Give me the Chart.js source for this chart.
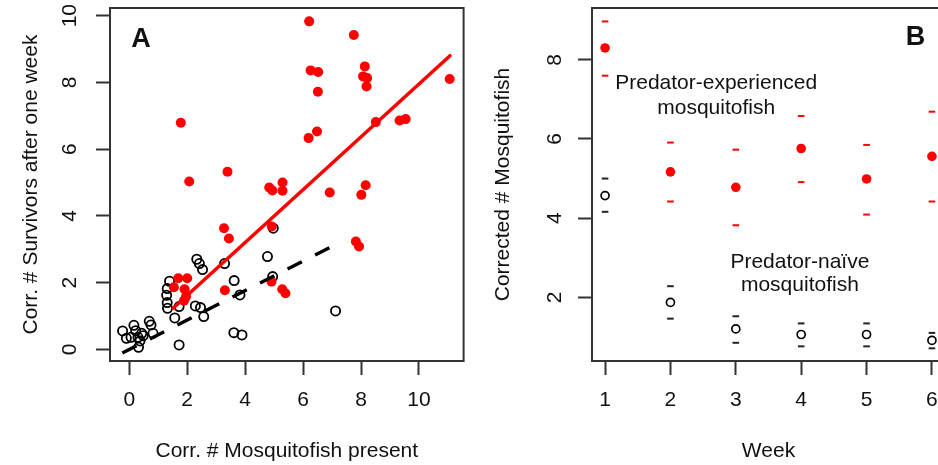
<!DOCTYPE html>
<html>
<head>
<meta charset="utf-8">
<script src="https://cdn.jsdelivr.net/npm/chart.js@4.4.1/dist/chart.umd.min.js"></script>
<style>
  html, body { margin: 0; padding: 0; background: #fff; }
  body { width: 938px; height: 465px; overflow: hidden; position: relative; }
  canvas { position: absolute; top: 0; }
  #chartA { left: 0; }
  #chartB { left: 470px; }
</style>
</head>
<body>
<canvas id="chartA" width="470" height="465"></canvas>
<canvas id="chartB" width="490" height="465"></canvas>
<script>
// ================= PANEL A DATA =================
// predator-experienced tanks (filled red)
const expX = [6.21, 7.75, 6.26, 6.52, 8.13, 8.07, 8.21, 8.19, 6.51, 11.06,
              8.51, 9.33, 9.54, 6.48, 6.19, 1.78, 2.07, 3.39, 4.83, 4.94,
              5.29, 5.29, 6.92, 8.16, 8.01, 3.27, 3.44, 4.92, 7.82, 7.93,
              4.91, 5.28, 5.39, 3.30, 1.69, 2.00, 1.54, 1.91, 1.96, 1.89];
const expY = [9.83, 9.42, 8.36, 8.31, 8.48, 8.18, 8.13, 7.88, 7.72, 8.10,
              6.81, 6.86, 6.90, 6.53, 6.33, 6.79, 5.03, 5.32, 4.85, 4.76,
              5.00, 4.75, 4.70, 4.92, 4.63, 3.63, 3.32, 3.68, 3.23, 3.08,
              2.03, 1.80, 1.68, 1.77, 2.13, 2.13, 1.86, 1.80, 1.58, 1.46];

// predator-naive tanks (open black)
const naiveX = [-0.23, -0.10, 0.06, 0.16, 0.22, 0.30, 0.32, 0.37, 0.43, 0.48,
                0.69, 0.75, 0.82, 1.39, 1.31, 1.29, 1.31, 1.32, 1.57, 1.72,
                1.72, 2.28, 2.46, 2.57, 2.33, 2.42, 2.53, 3.29, 3.62, 3.82,
                3.61, 3.89, 4.77, 4.97, 4.95, 7.12];
const naiveY = [0.55, 0.33, 0.36, 0.72, 0.56, 0.36, 0.06, 0.25, 0.48, 0.41,
                0.84, 0.73, 0.48, 2.04, 1.82, 1.62, 1.40, 1.23, 0.94, 0.13,
                1.28, 1.30, 1.25, 0.98, 2.70, 2.57, 2.39, 2.57, 2.06, 1.63,
                0.50, 0.43, 2.78, 3.63, 2.18, 1.15];

// fitted lines (end points)
const expFitX = [1.52, 11.07];
const expFitY = [1.24, 8.80];
const naiveFitX = [-0.24, 6.92];
const naiveFitY = [-0.11, 3.05];

const xTicksA = [0, 2, 4, 6, 8, 10];
const yTicksA = [0, 2, 4, 6, 8, 10];

// ================= PANEL B DATA =================
const weeks = [1, 2, 3, 4, 5, 6];
const expMean  = [8.30, 5.17, 4.78, 5.76, 4.99, 5.56];
const expUpper = [8.97, 5.91, 5.73, 6.58, 5.85, 6.69];
const expLower = [7.60, 4.42, 3.82, 4.91, 4.09, 4.42];
const naiveMean  = [4.57, 1.87, 1.20, 1.06, 1.06, 0.91];
const naiveUpper = [5.00, 2.28, 1.52, 1.34, 1.34, 1.10];
const naiveLower = [4.16, 1.46, 0.85, 0.76, 0.76, 0.71];

const xTicksB = [1, 2, 3, 4, 5, 6];
const yTicksB = [2, 4, 6, 8];

const noteLines = ["Predator-experienced", "mosquitofish", "Predator-naïve", "mosquitofish"];
const noteX = [2.70, 2.70, 3.98, 3.98];
const noteY = [7.41, 6.79, 2.88, 2.30];

// ================= HELPERS =================
const FONT = '"Liberation Sans", Arial, Helvetica, sans-serif';
const INK = "#111";
Chart.defaults.font.family = FONT;
Chart.defaults.font.size = 21;
Chart.defaults.color = INK;

const pts = (xs, ys) => xs.map((x, i) => ({ x, y: ys[i] }));

function xAxis(min, max, ticks, title) {
  return {
    type: "linear", min, max,
    afterBuildTicks: s => { s.ticks = ticks.map(v => ({ value: v })); },
    afterFit: s => { s.height = 104; },
    grid: { drawOnChartArea: false, tickLength: 14, tickWidth: 2, tickColor: "#333" },
    border: { display: false },
    ticks: { padding: 13, color: INK, maxRotation: 0 },
    title: { display: true, text: title, color: INK, padding: { top: 0, bottom: 1.4 } }
  };
}

function yAxis(min, max, ticks, title, width, titlePad) {
  return {
    type: "linear", min, max,
    afterBuildTicks: s => { s.ticks = ticks.map(v => ({ value: v })); },
    afterFit: s => { s.width = width; },
    grid: { drawOnChartArea: false, tickLength: 14, tickWidth: 2, tickColor: "#333" },
    border: { display: false },
    ticks: { display: false },
    title: { display: true, text: title, color: INK, padding: { top: titlePad, bottom: 0 } }
  };
}

// box, upright y labels, panel letter and notes
const frame = {
  id: "frame",
  afterDraw(chart, args, opts) {
    const { ctx, chartArea: a, scales } = chart;
    ctx.save();
    ctx.strokeStyle = "#333";
    ctx.lineWidth = 2;
    ctx.strokeRect(a.left, a.top, a.right - a.left, a.bottom - a.top);

    ctx.fillStyle = INK;
    ctx.textAlign = "center";
    ctx.textBaseline = "middle";
    ctx.font = "21px " + FONT;
    scales.y.ticks.forEach(t => {
      ctx.save();
      ctx.translate(opts.labelX, scales.y.getPixelForValue(t.value));
      ctx.rotate(-Math.PI / 2);
      ctx.fillText(String(t.value), 0, 0);
      ctx.restore();
    });

    (opts.notes || []).forEach(n => {
      ctx.fillText(n.text, scales.x.getPixelForValue(n.x), scales.y.getPixelForValue(n.y));
    });

    ctx.font = "bold 27px " + FONT;
    ctx.fillText(opts.letter, opts.letterX, opts.letterY);
    ctx.restore();
  }
};

// ================= PANEL A =================
new Chart(document.getElementById("chartA"), {
  type: "scatter",
  data: {
    datasets: [
      {
        data: pts(naiveX, naiveY), order: 4,
        pointRadius: 4.6, pointBorderWidth: 1.8,
        pointBackgroundColor: "rgba(0,0,0,0)", pointBorderColor: "#000"
      },
      {
        data: pts(expX, expY), order: 3,
        pointRadius: 5, pointBorderWidth: 0,
        pointBackgroundColor: "#ff0000", pointBorderColor: "#ff0000"
      },
      {
        type: "line", data: pts(naiveFitX, naiveFitY), order: 2,
        borderColor: "#000", borderWidth: 3.5, borderDash: [16, 14.9],
        pointRadius: 0, fill: false
      },
      {
        type: "line", data: pts(expFitX, expFitY), order: 1,
        borderColor: "#ff0000", borderWidth: 3.5, borderCapStyle: "round",
        pointRadius: 0, fill: false
      }
    ]
  },
  options: {
    responsive: false,
    animation: false,
    layout: { padding: { left: 0, right: 6, top: 8, bottom: 0 } },
    scales: {
      x: xAxis(-0.665, 11.54, xTicksA, "Corr. # Mosquitofish present"),
      y: yAxis(-0.35, 10.23, yTicksA, "Corr. # Survivors after one week", 110, 19)
    },
    plugins: {
      legend: { display: false },
      tooltip: { enabled: false },
      frame: { labelX: 70, letter: "A", letterX: 141, letterY: 40 }
    }
  },
  plugins: [frame]
});

// ================= PANEL B =================
const capStyle = color => ({
  pointStyle: "line", pointRadius: 3.3, pointBorderWidth: 2,
  pointBorderColor: color, pointBackgroundColor: color
});

new Chart(document.getElementById("chartB"), {
  type: "scatter",
  data: {
    datasets: [
      { data: pts(weeks, expUpper), ...capStyle("#ff0000") },
      { data: pts(weeks, expLower), ...capStyle("#ff0000") },
      { data: pts(weeks, naiveUpper), ...capStyle("#222") },
      { data: pts(weeks, naiveLower), ...capStyle("#222") },
      {
        data: pts(weeks, expMean),
        pointRadius: 4.8, pointBorderWidth: 0,
        pointBackgroundColor: "#ff0000", pointBorderColor: "#ff0000"
      },
      {
        data: pts(weeks, naiveMean),
        pointRadius: 4, pointBorderWidth: 1.7,
        pointBackgroundColor: "rgba(0,0,0,0)", pointBorderColor: "#000"
      }
    ]
  },
  options: {
    responsive: false,
    animation: false,
    layout: { padding: { left: 0, right: 15, top: 8, bottom: 0 } },
    scales: {
      x: xAxis(0.8, 6.2, xTicksB, "Week"),
      y: yAxis(0.39, 9.31, yTicksB, "Corrected # Mosquitofish", 122, 20.4)
    },
    plugins: {
      legend: { display: false },
      tooltip: { enabled: false },
      frame: {
        labelX: 85, letter: "B", letterX: 445.5, letterY: 38,
        notes: noteLines.map((t, i) => ({ text: t, x: noteX[i], y: noteY[i] }))
      }
    }
  },
  plugins: [frame]
});
</script>
</body>
</html>
